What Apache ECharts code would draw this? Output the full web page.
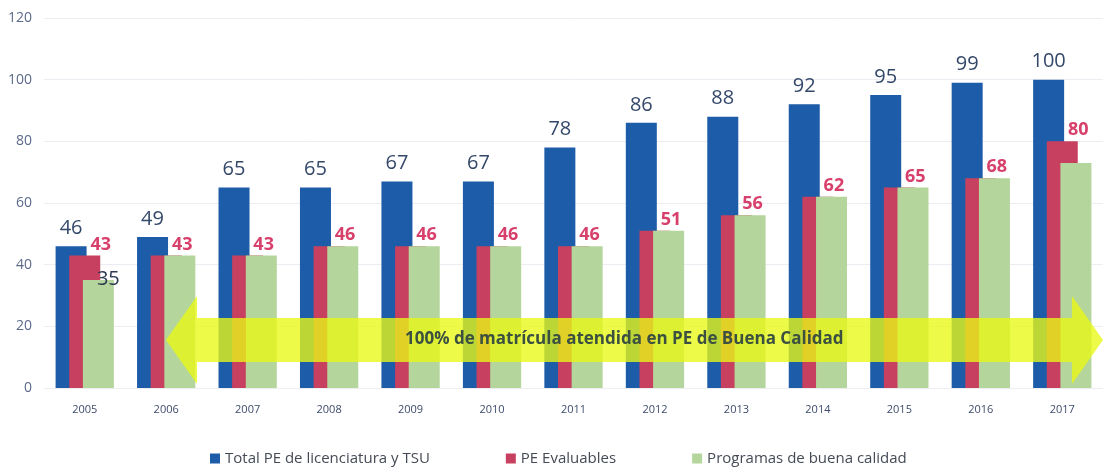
<!DOCTYPE html>
<html>
<head>
<meta charset="utf-8">
<script src="https://cdn.jsdelivr.net/npm/echarts@6/dist/echarts.min.js"></script>
<style>
  html, body { margin: 0; padding: 0; background: #fff; }
  #chart { width: 1103px; height: 474px; }
</style>
</head>
<body>
<div id="chart"></div>
<script>
// datos
const years = ['2005', '2006', '2007', '2008', '2009', '2010', '2011', '2012', '2013', '2014', '2015', '2016', '2017'];
const totalPE = [46, 49, 65, 65, 67, 67, 78, 86, 88, 92, 95, 99, 100];
const evaluables = [43, 43, 43, 46, 46, 46, 46, 51, 56, 62, 65, 68, 80];
const buenaCalidad = [35, 43, 43, 46, 46, 46, 46, 51, 56, 62, 65, 68, 73];
const yTicks = [0, 20, 40, 60, 80, 100, 120];

const chart = echarts.init(document.getElementById('chart'));
const font = '"Open Sans", "Liberation Sans", sans-serif';

// flecha amarilla (anotación)
const arrowPts = [
  [166, 340], [197, 296], [197, 318], [1072, 318], [1072, 296],
  [1103, 340], [1072, 384], [1072, 362], [197, 362], [197, 384]
];

const option = {
  animation: false,
  textStyle: { fontFamily: font },
  grid: { left: 44, right: 0, top: 18, bottom: 86 },
  legend: {
    left: 205,
    bottom: 3,
    itemWidth: 10,
    itemHeight: 10,
    itemGap: 76,
    icon: 'rect',
    textStyle: { fontSize: 15, color: '#444a55', fontFamily: font },
    data: ['Total PE de licenciatura y TSU', 'PE Evaluables', 'Programas de buena calidad']
  },
  xAxis: {
    type: 'category',
    data: years,
    axisLine: { show: false },
    axisTick: { show: false },
    axisLabel: { color: '#3d4b6b', fontSize: 11, margin: 16 }
  },
  yAxis: {
    type: 'value',
    min: yTicks[0],
    max: yTicks[yTicks.length - 1],
    interval: 20,
    axisLine: { show: false },
    axisTick: { show: false },
    axisLabel: { color: '#5b6a8a', fontSize: 14, margin: 12 },
    splitLine: { lineStyle: { color: '#ececf2' } }
  },
  series: [
    {
      name: 'Total PE de licenciatura y TSU',
      type: 'bar',
      data: totalPE,
      barWidth: 31,
      barGap: '-56%',
      itemStyle: { color: '#1d5ca8' },
      label: { show: true, position: 'top', distance: 8, color: '#34486a', fontSize: 20 }
    },
    {
      name: 'PE Evaluables',
      type: 'bar',
      data: evaluables,
      barWidth: 31,
      itemStyle: { color: '#c8405f' },
      label: {
        show: true, position: 'top', distance: 2, offset: [16, 0],
        color: '#d8406c', fontSize: 18, fontWeight: 'bold'
      }
    },
    {
      name: 'Programas de buena calidad',
      type: 'bar',
      data: buenaCalidad.map((v, i) => i === 0
        ? { value: v, label: { show: true, position: 'top', offset: [10, 14], color: '#2c3a52', fontSize: 20 } }
        : v),
      barWidth: 31,
      itemStyle: { color: '#b4d59b' }
    }
  ],
  graphic: [
    {
      type: 'polygon',
      z: 100,
      shape: { points: arrowPts },
      style: { fill: 'rgba(232, 248, 20, 0.78)' }
    },
    {
      type: 'text',
      z: 101,
      left: 405,
      top: 331,
      style: {
        text: '100% de matrícula atendida en PE de Buena Calidad',
        fill: '#3b5040',
        font: 'bold 17px "Open Sans", sans-serif'
      }
    }
  ]
};

chart.setOption(option);
</script>
</body>
</html>
